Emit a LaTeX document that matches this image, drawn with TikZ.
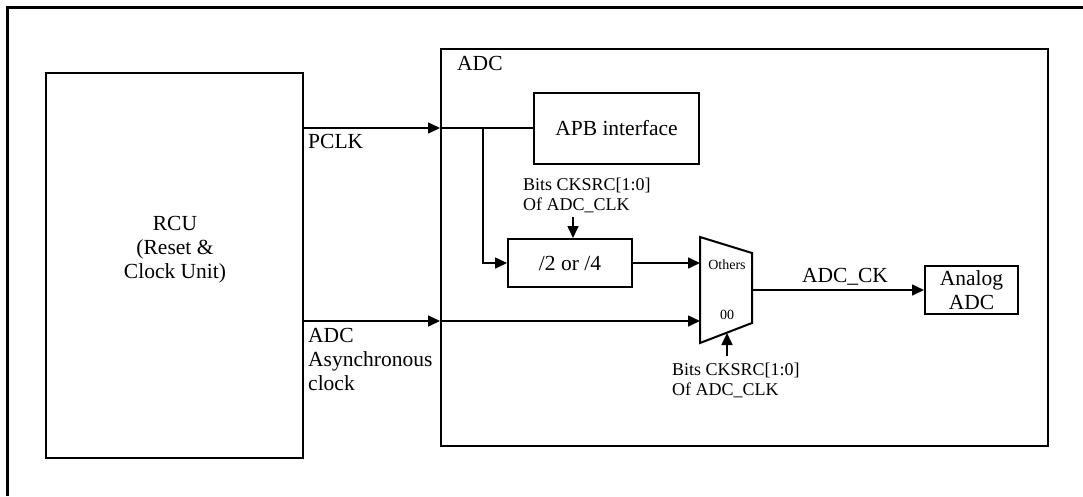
\documentclass[tikz,border=0pt]{standalone}
\usepackage{fontspec}
\setmainfont{Liberation Serif}
\usetikzlibrary{positioning,arrows.meta}

\begin{document}
\begin{tikzpicture}[x=1pt, y=-1pt,
    every node/.style={font=\fontsize{21.5}{24}\selectfont, align=center, inner sep=0pt},
    unitBox/.style={rectangle, draw, line width=2.6pt},
    partBox/.style={rectangle, draw, line width=2pt},
    muxShape/.style={draw, line width=2pt, line join=miter},
    sigLine/.style={draw, line width=1.6pt, -{Triangle[length=12pt, width=11pt]}},
    plainLine/.style={draw, line width=1.6pt},
    noteText/.style={font=\fontsize{18}{19.5}\selectfont, align=left, anchor=north west},
    tinyText/.style={font=\fontsize{14}{16}\selectfont}
]
    \useasboundingbox (0, 0) rectangle (1083, 496);
    \draw [line width=2.6pt] (7.5, 496) -- (7.5, 7.5) -- (1083, 7.5);

    \node [unitBox, minimum width=257pt, minimum height=385pt] (rcu) at (174.5, 265.5) {};
    \node [anchor=north] (rcuText) at (175, 216) {RCU\\(Reset \&\\Clock Unit)};

    \node [unitBox, minimum width=607pt, minimum height=397pt] (adc) at (744.5, 247.5) {};
    \node [anchor=west] (adcText) at (457, 63) {ADC};

    \node [partBox, minimum width=165pt, minimum height=71pt] (apb) at (616.5, 128) {APB interface};
    \node [partBox, minimum width=124pt, minimum height=48pt] (div) at (570, 263) {/2 or /4};
    \node [partBox, minimum width=93pt, minimum height=48pt] (analog) at (971.5, 290) {Analog\\ADC};

    \draw [muxShape] (700, 237) -- (752, 253) -- (752, 323) -- (700, 343) -- cycle;
    \node [tinyText] (muxOthers) at (727, 265) {Others};
    \node [tinyText] (muxZero) at (727, 314.5) {00};

    \coordinate (pclkIn) at (440, 128);
    \coordinate (pclkTap) at (483, 128);
    \coordinate (asyncIn) at (440, 321);
    \coordinate (muxInA) at (700, 263);
    \coordinate (muxInB) at (700, 321);
    \coordinate (muxOut) at (752, 290);
    \coordinate (muxSel) at (727, 333);
    \coordinate (selA) at (573, 217);
    \coordinate (selB) at (727, 356);

    \node [anchor=west] (pclkText) at (308, 141) {PCLK};
    \node [anchor=north west, align=left] (asyncText) at (308, 328) {ADC\\Asynchronous\\clock};
    \node [noteText] (selAText) at (523, 178) {Bits CKSRC[1:0]\\Of ADC\_CLK};
    \node [noteText] (selBText) at (672, 363) {Bits CKSRC[1:0]\\Of ADC\_CLK};
    \node [anchor=base] (adcckText) at (845, 282) {ADC\_CK};

    \path [sigLine] (rcu.east |- pclkIn) -- (pclkIn);
    \path [plainLine] (pclkIn) -- (apb.west);
    \path [sigLine] (pclkTap) |- (div.west);
    \path [sigLine] (rcu.east |- asyncIn) -- (asyncIn);
    \path [sigLine] (asyncIn) -- (muxInB);
    \path [sigLine] (div.east) -- (muxInA);
    \path [sigLine] (selA) -- (selA |- div.north);
    \path [sigLine] (selB) -- (muxSel);
    \path [sigLine] (muxOut) -- (analog.west);
\end{tikzpicture}
\end{document}
